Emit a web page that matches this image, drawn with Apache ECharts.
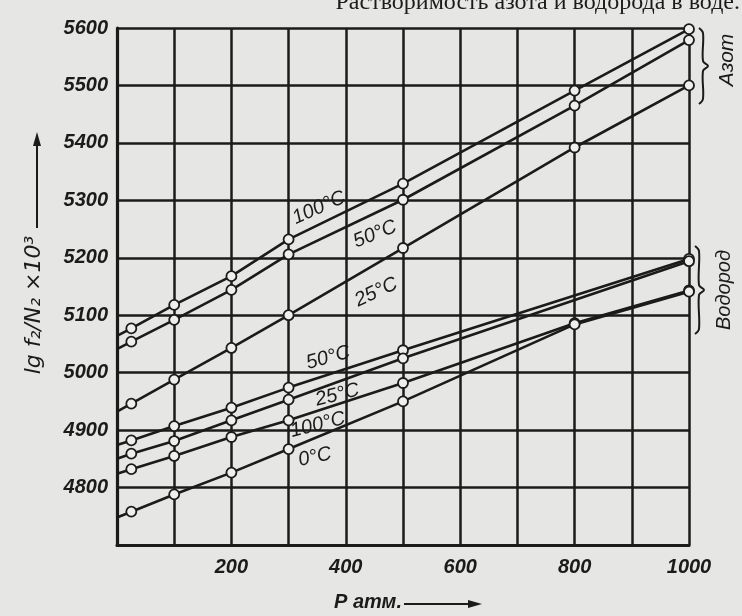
<!DOCTYPE html>
<html><head><meta charset="utf-8">
<script src="https://cdn.jsdelivr.net/npm/echarts@6/dist/echarts.min.js"></script>
<style>html,body{margin:0;padding:0;background:#e6e6e4;}#c{width:742px;height:616px;}</style>
</head><body><div id="c"></div>
<script>
// Pressure (atm) vs lg(f2/N2) x 10^3 ; first item (P = 0) is where the drawn line meets the left border
const xTickLabels = [200, 400, 600, 800, 1000];
const yTickLabels = [4800, 4900, 5000, 5100, 5200, 5300, 5400, 5500, 5600];
const n2_100 = [[0,5064],[25,5077],[100,5118],[200,5168],[300,5232],[500,5329],[800,5491],[1000,5598]];
const n2_50  = [[0,5041],[25,5054],[100,5092],[200,5144],[300,5206],[500,5301],[800,5465],[1000,5579]];
const n2_25  = [[0,4932],[25,4946],[100,4988],[200,5043],[300,5100],[500,5217],[800,5392],[1000,5500]];
const h2_50  = [[0,4874],[25,4882],[100,4907],[200,4939],[300,4974],[500,5039],[1000,5198]];
const h2_25  = [[0,4850],[25,4859],[100,4881],[200,4917],[300,4953],[500,5025],[1000,5194]];
const h2_100 = [[0,4824],[25,4832],[100,4855],[200,4888],[300,4917],[500,4982],[800,5086],[1000,5143]];
const h2_0   = [[0,4748],[25,4758],[100,4788],[200,4826],[300,4867],[500,4950],[800,5084],[1000,5141]];
const seriesNames = ['N2 100°C','N2 50°C','N2 25°C','H2 50°C','H2 25°C','H2 100°C','H2 0°C'];
const seriesData = [n2_100, n2_50, n2_25, h2_50, h2_25, h2_100, h2_0];
// curve labels: text, anchor [P, value], rotation (deg)
const curveLabels = [
  ['100°C', [353, 5287], 24],
  ['50°C',  [451, 5241], 22],
  ['25°C',  [453, 5140], 25],
  ['50°C',  [369, 5026], 15],
  ['25°C',  [385, 4961], 14],
  ['100°C', [351, 4909], 14],
  ['0°C',   [346, 4853], 12]
];

const INK = '#1b1b1b';
const chart = echarts.init(document.getElementById('c'), null, {renderer: 'canvas'});
const tickFont = {fontFamily: 'Liberation Sans', fontWeight: 'bold', fontStyle: 'italic', fontSize: 20, color: INK};

chart.setOption({
  backgroundColor: '#e6e6e4',
  animation: false,
  grid: {left: 117, right: 53, top: 28, bottom: 71, containLabel: false},
  xAxis: {
    type: 'value', min: 0, max: 1000, interval: 100,
    axisLine: {show: true, lineStyle: {color: INK, width: 3.2}},
    axisTick: {show: false},
    splitLine: {show: true, lineStyle: {color: INK, width: 2.5}},
    axisLabel: Object.assign({margin: 12, formatter: v => xTickLabels.includes(v) ? String(v) : ''}, tickFont)
  },
  yAxis: {
    type: 'value', min: 4700, max: 5600, interval: 100,
    axisLine: {show: true, lineStyle: {color: INK, width: 3.2}},
    axisTick: {show: false},
    splitLine: {show: true, lineStyle: {color: INK, width: 2.5}},
    axisLabel: Object.assign({margin: 9, formatter: v => yTickLabels.includes(v) ? String(v) : ''}, tickFont)
  },
  series: seriesData.map((d, i) => ({
    name: seriesNames[i], type: 'line', z: 5,
    data: d.map(p => p[0] === 0 ? {value: p, symbol: 'none'} : {value: p}),
    symbol: 'circle', symbolSize: 10,
    itemStyle: {color: '#efefed', borderColor: INK, borderWidth: 1.8},
    lineStyle: {color: INK, width: 2.6}
  }))
});

function brace(x, y0, y1) {
  const ym = (y0 + y1) / 2;
  return {type: 'polyline', silent: true, z: 10,
    shape: {points: [[x - 3, y0], [x + 1, y0 + 5], [x + 1, ym - 5], [x + 6, ym], [x + 1, ym + 5], [x + 1, y1 - 5], [x - 3, y1]], smooth: 0.35},
    style: {stroke: INK, lineWidth: 2, fill: null}};
}
const lblFont = 'italic 20px "Liberation Sans"';
const g = [];
curveLabels.forEach(([t, pos, rot]) => {
  const px = chart.convertToPixel({gridIndex: 0}, pos);
  g.push({type: 'text', x: px[0], y: px[1], rotation: rot * Math.PI / 180, z: 10,
    style: {text: t, font: lblFont, fill: INK, align: 'center', verticalAlign: 'middle'}});
});
// title fragment (cut at top edge)
g.push({type: 'text', x: 740, y: 15, z: 10,
  style: {text: 'Растворимость азота и водорода в воде.', font: '24px "Liberation Serif"', fill: INK, align: 'right', verticalAlign: 'bottom'}});
// side group labels
g.push(brace(702, 28, 104));
g.push({type: 'text', x: 727, y: 60, rotation: Math.PI / 2, z: 10,
  style: {text: 'Азот', font: 'italic 21px "Liberation Sans"', fill: INK, align: 'center', verticalAlign: 'middle'}});
g.push(brace(698, 246, 334));
g.push({type: 'text', x: 724, y: 290, rotation: Math.PI / 2, z: 10,
  style: {text: 'Водород', font: 'italic 20px "Liberation Sans"', fill: INK, align: 'center', verticalAlign: 'middle'}});
// y-axis name with arrow
g.push({type: 'text', x: 34, y: 305, rotation: Math.PI / 2, z: 10,
  style: {text: 'lg f₂/N₂ ×10³', font: 'italic 22px "DejaVu Sans"', fill: INK, align: 'center', verticalAlign: 'middle'}});
g.push({type: 'line', z: 10, shape: {x1: 37, y1: 228, x2: 37, y2: 140}, style: {stroke: INK, lineWidth: 2}});
g.push({type: 'polygon', z: 10, shape: {points: [[37, 132], [33, 146], [41, 146]]}, style: {fill: INK}});
// x-axis name with arrow
g.push({type: 'text', x: 368, y: 602, z: 10,
  style: {text: 'P атм.', font: 'bold italic 20px "Liberation Sans"', fill: INK, align: 'center', verticalAlign: 'middle'}});
g.push({type: 'line', z: 10, shape: {x1: 404, y1: 604, x2: 472, y2: 604}, style: {stroke: INK, lineWidth: 2}});
g.push({type: 'polygon', z: 10, shape: {points: [[482, 604], [468, 600], [468, 608]]}, style: {fill: INK}});
chart.setOption({graphic: g});
</script></body></html>
